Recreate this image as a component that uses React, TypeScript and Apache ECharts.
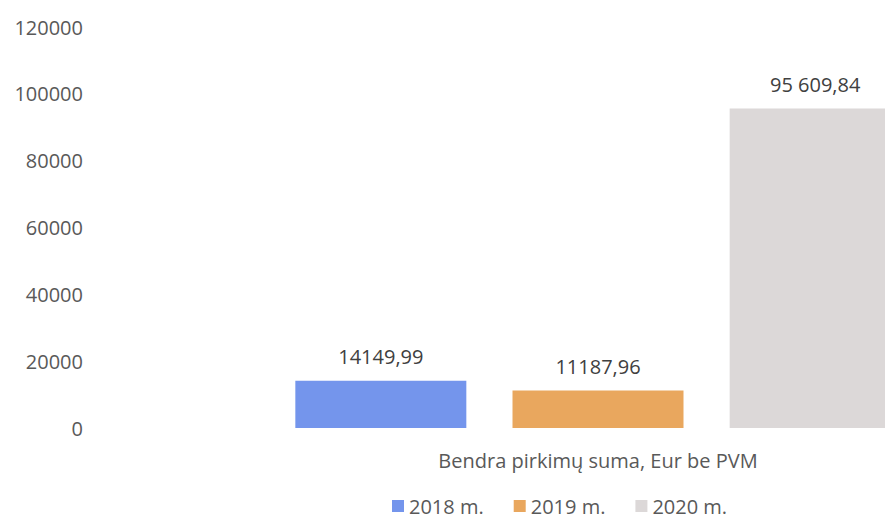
import React, { useEffect, useRef } from "react";
import * as echarts from "echarts";

const categories = ["Bendra pirkimų suma, Eur be PVM"];
const seriesNames = ["2018 m.", "2019 m.", "2020 m."];
const values2018 = [14149.99];
const values2019 = [11187.96];
const values2020 = [95609.84];
const valueLabels = ["14149,99", "11187,96", "95 609,84"];
const yTicks = [0, 20000, 40000, 60000, 80000, 100000, 120000];
const colors = ["#7495ec", "#e9a75e", "#dcd8d8"];

const FONT = "'Open Sans', sans-serif";

export default function App() {
  const ref = useRef<HTMLDivElement>(null);
  useEffect(() => {
    if (!ref.current) return;
    const chart = echarts.init(ref.current, undefined, { renderer: "svg" });
    const allValues = [values2018, values2019, values2020];
    const option = {
      animation: false,
      backgroundColor: "#ffffff",
      textStyle: { fontFamily: FONT },
      grid: { left: 91, top: 27, width: 1014, height: 401 },
      legend: {
        data: seriesNames,
        left: 392,
        top: 496,
        padding: 0,
        itemWidth: 12,
        itemHeight: 12,
        itemGap: 30,
        icon: "rect",
        textStyle: { fontFamily: FONT, fontSize: 20, lineHeight: 20, color: "#595959" },
      },
      xAxis: {
        type: "category",
        data: categories,
        axisLine: { show: false },
        axisTick: { show: false },
        axisLabel: { fontFamily: FONT, fontSize: 20, color: "#595959", margin: 22 },
      },
      yAxis: {
        type: "value",
        min: yTicks[0],
        max: yTicks[yTicks.length - 1],
        interval: yTicks[1] - yTicks[0],
        axisLine: { show: false },
        axisTick: { show: false },
        splitLine: { show: false },
        axisLabel: {
          fontFamily: FONT,
          fontSize: 20,
          color: "#595959",
          margin: 8,
          formatter: (v: number) => String(v),
        },
      },
      series: seriesNames.map((name, i) => ({
        name,
        type: "bar",
        data: allValues[i],
        barWidth: 171,
        barGap: "27%",
        itemStyle: { color: colors[i] },
        label: {
          show: true,
          position: "top",
          distance: 14,
          fontFamily: FONT,
          fontSize: 20,
          color: "#404040",
          formatter: () => valueLabels[i],
        },
      })),
    };
    chart.setOption(option);
    return () => chart.dispose();
  }, []);
  return (
    <div style={{ position: "absolute", left: 0, top: 0, width: 885, height: 518, overflow: "hidden", background: "#fff" }}>
      <div ref={ref} style={{ width: 1200, height: 518 }} />
    </div>
  );
}
